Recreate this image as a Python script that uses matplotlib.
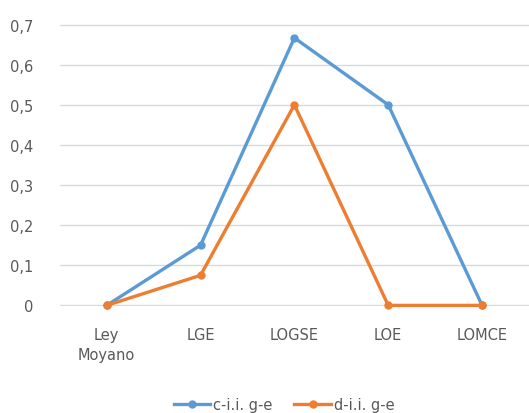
import matplotlib.pyplot as plt
from matplotlib.ticker import FuncFormatter

# categories and series
categories = ['Ley\nMoyano', 'LGE', 'LOGSE', 'LOE', 'LOMCE']
c_values   = [0, 0.15, 0.667, 0.5, 0]
d_values   = [0, 0.075, 0.5, 0, 0]
labels     = ['c-i.i. g-e', 'd-i.i. g-e']

fig = plt.figure(figsize=(5.29, 4.14), dpi=100)
ax = fig.add_axes([0.113, 0.258, 0.887, 0.682])

x = range(len(categories))
ax.plot(x, c_values, '-o', color='#5B9BD5', lw=2.4, ms=5, label=labels[0], clip_on=False, zorder=3)
ax.plot(x, d_values, '-o', color='#ED7D31', lw=2.4, ms=5, label=labels[1], clip_on=False, zorder=3)

ax.set_xlim(-0.5, len(categories) - 0.5)
ax.set_ylim(-0.002, 0.702)
ax.set_yticks([0, 0.1, 0.2, 0.3, 0.4, 0.5, 0.6, 0.7])
ax.yaxis.set_major_formatter(FuncFormatter(lambda v, p: '0' if v == 0 else ('%.1f' % v).replace('.', ',')))
ax.set_xticks(list(x))
ax.set_xticklabels(categories, linespacing=1.45)

ax.grid(axis='y', color='#D9D9D9', lw=1)
ax.set_axisbelow(True)
for s in ax.spines.values():
    s.set_visible(False)
ax.tick_params(length=0, colors='#595959', labelsize=10.5)
ax.tick_params(axis='y', pad=19)
ax.tick_params(axis='x', pad=15)

fig.legend(loc='center', bbox_to_anchor=(0.537, 0.02), ncol=2, frameon=False,
           fontsize=10.5, labelcolor='#595959', handlelength=2.5, columnspacing=1.5,
           handletextpad=0.2)

fig.savefig('out.png', dpi=100)
